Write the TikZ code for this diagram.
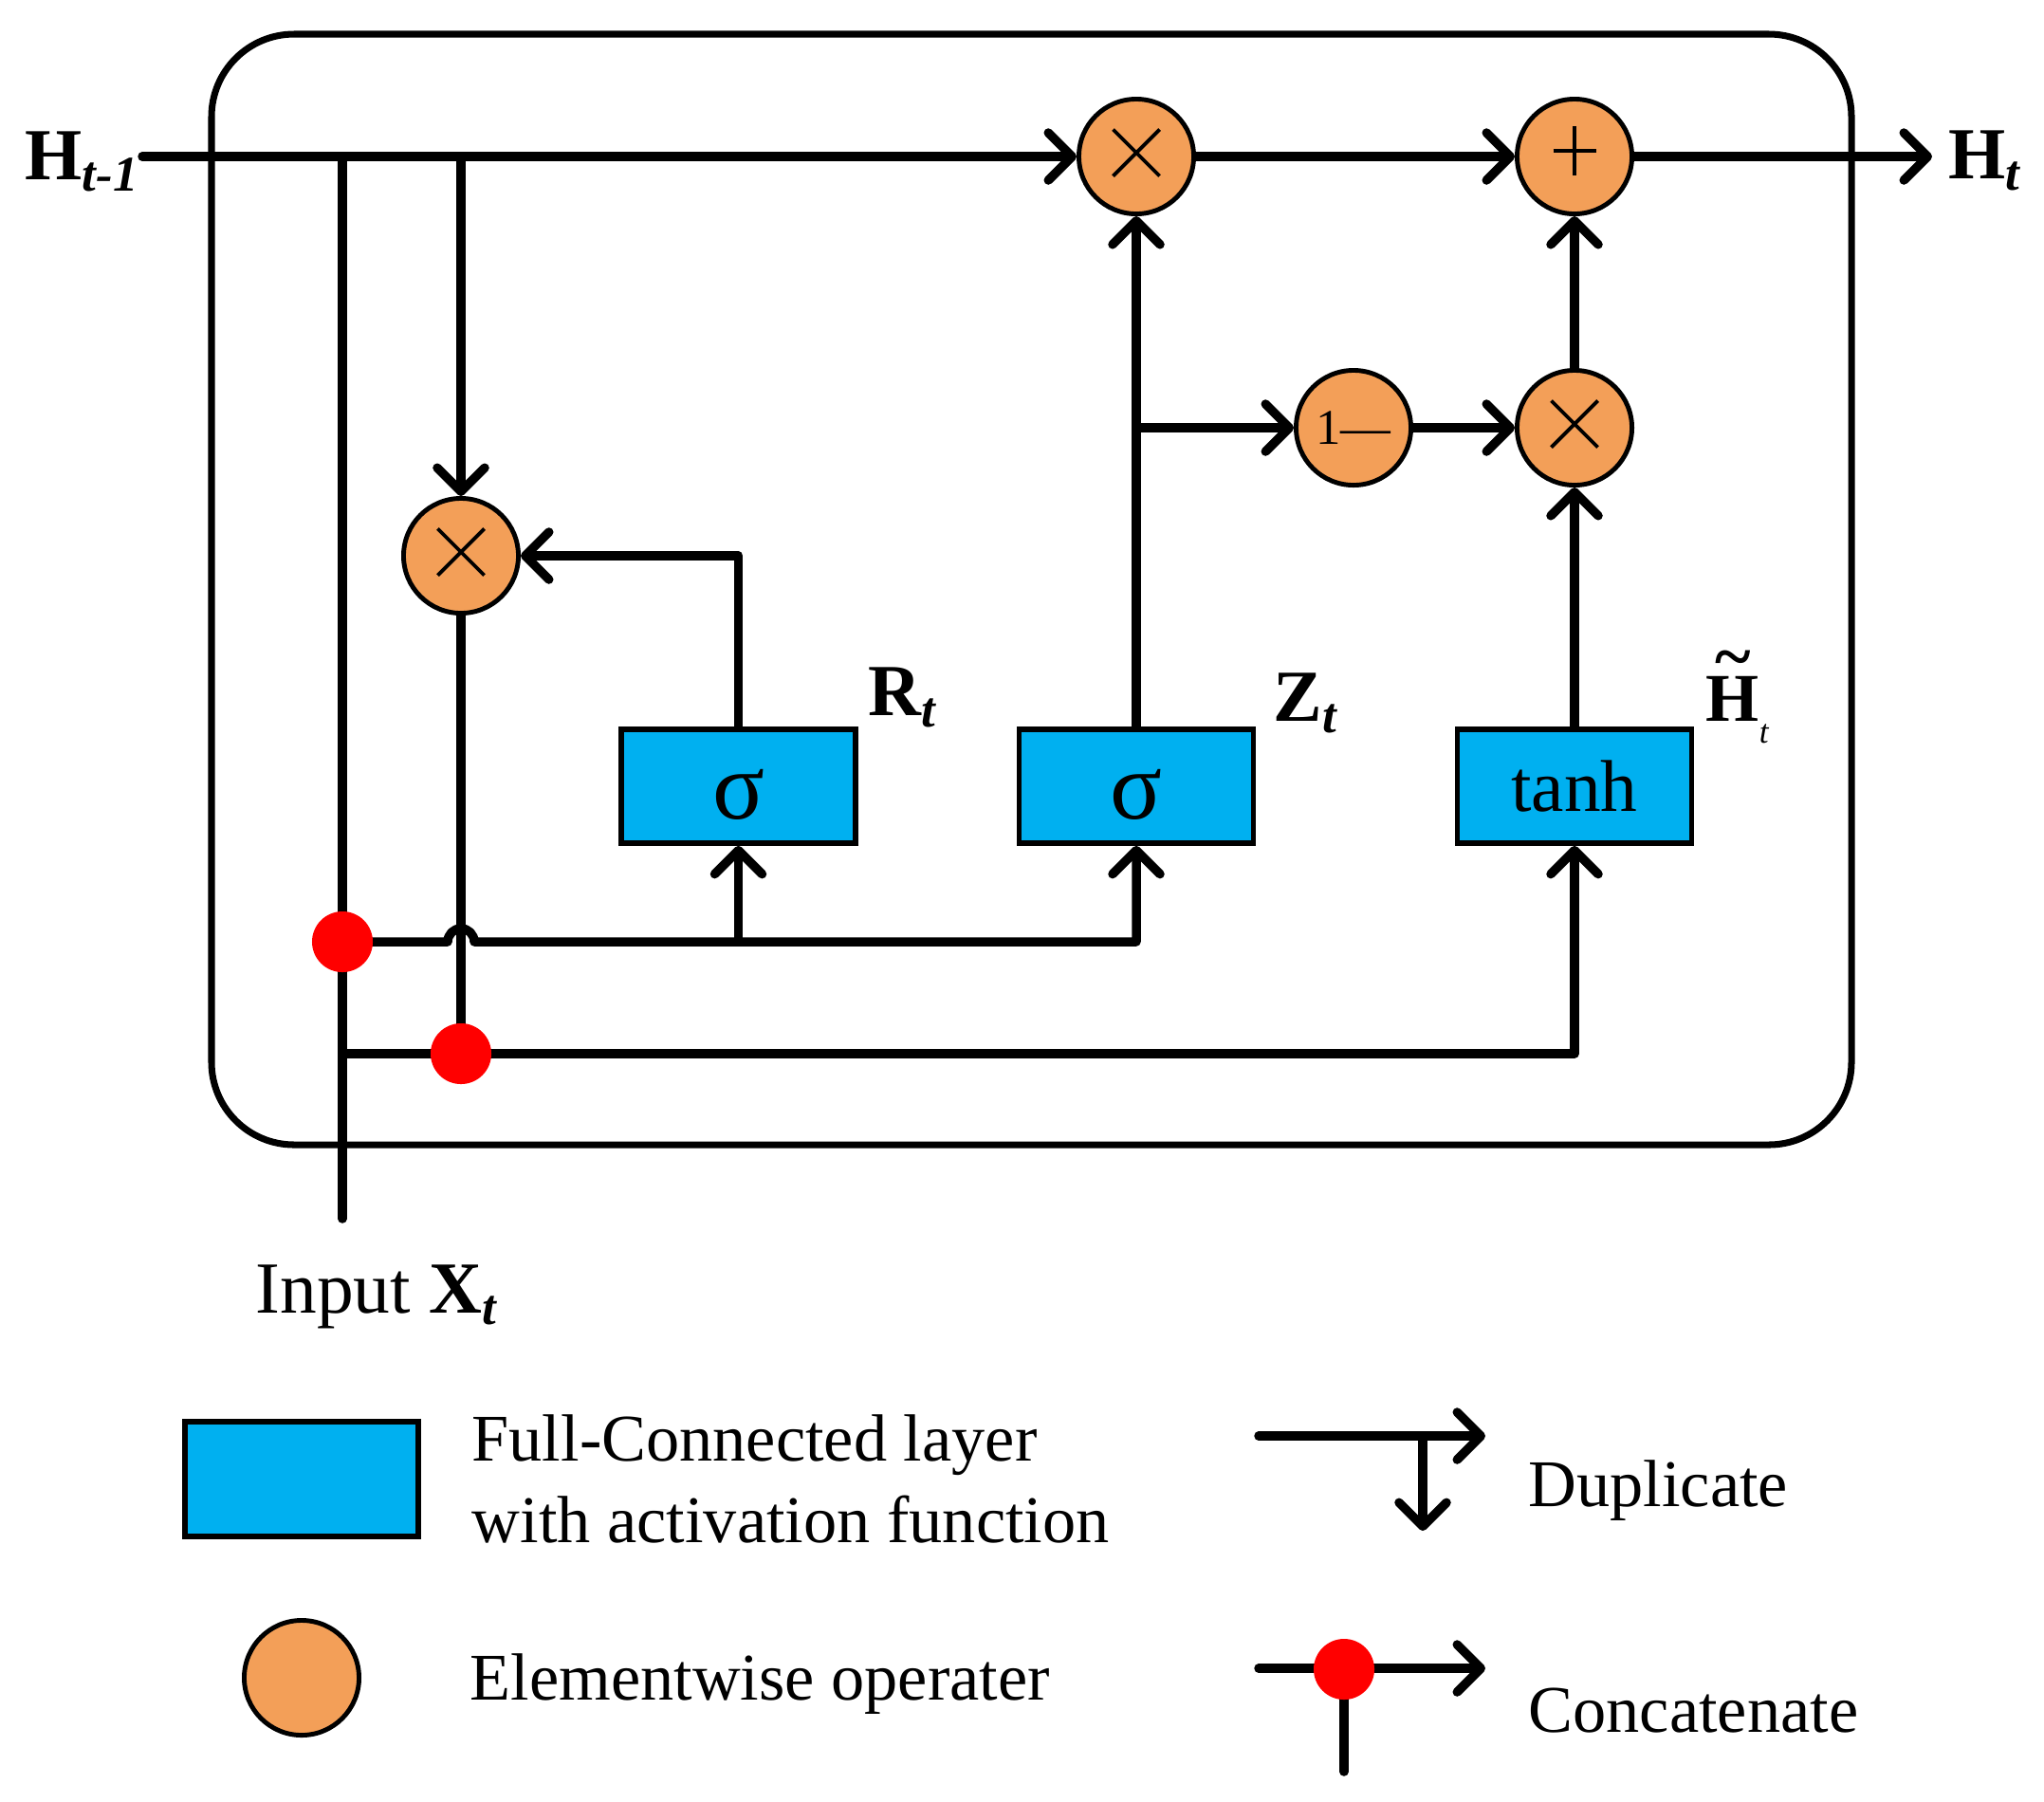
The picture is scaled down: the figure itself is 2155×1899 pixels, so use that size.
\documentclass[tikz,border=0pt]{standalone}
\usepackage{fontspec}
\setmainfont{Liberation Serif}
\usetikzlibrary{arrows.meta,calc,backgrounds}
\definecolor{fcblue}{RGB}{0,176,240}
\definecolor{opfill}{RGB}{243,159,88}
\newcommand{\fsz}[1]{\fontsize{#1}{#1}\selectfont}
\newcommand{\lsub}[1]{\raisebox{-0.12cm}{\fsz{15pt}\bfseries\itshape #1}}
\begin{document}
\begin{tikzpicture}[x=0.01cm,y=0.01cm,
  wire/.style={line width=2.7pt, line cap=round, line join=round},
  arr/.style={-{Straight Barb[length=0.25cm,width=0.5cm,round]}},
  op/.style={circle, draw, fill=opfill, line width=1.4pt, minimum size=1.21cm, inner sep=0pt},
  fc/.style={rectangle, draw, fill=fcblue, line width=1.6pt, minimum width=2.47cm, minimum height=1.20cm, inner sep=0pt},
  cdot/.style={circle, fill=red, minimum size=0.64cm, inner sep=0pt},
  lab/.style={anchor=base west, inner sep=0pt},
  timesop/.style={op, path picture={\draw[line width=1.1pt]
      ([shift={(-0.245cm,-0.205cm)}]path picture bounding box.center) -- ++(0.49cm,0.49cm)
      ([shift={(-0.245cm,0.285cm)}]path picture bounding box.center) -- ++(0.49cm,-0.49cm);}},
  plusop/.style={op, path picture={\draw[line width=1.1pt]
      ([shift={(-0.225cm,0.06cm)}]path picture bounding box.center) -- ++(0.45cm,0cm)
      ([shift={(0cm,-0.20cm)}]path picture bounding box.center) -- ++(0cm,0.52cm);}},
]
\useasboundingbox (0,0) rectangle (2155,-1899);

% cell frame
\draw[line width=2pt, rounded corners=0.87cm] (223,-36) rectangle (1952,-1207);

% element-wise operators
\node[timesop] (m1) at (1198,-165) {};
\node[plusop]  (pl) at (1660,-165) {};
\node[op, font=\fsz{15pt}] (om) at (1427,-451) {1—};
\node[timesop] (m2) at (1660,-451) {};
\node[timesop] (mr) at (486,-586) {};

% fully connected layers
\node[fc] (rs) at (778.5,-829) {\smash{\raisebox{-0.34cm}{\fsz{29pt}σ}}};
\node[fc] (zs) at (1198,-829) {\smash{\raisebox{-0.34cm}{\fsz{29pt}σ}}};
\node[fc, font=\fsz{22pt}] (th) at (1660,-829) {tanh};

% concatenation points
\node[cdot] (d1) at (361,-993) {};
\node[cdot] (d2) at (486,-1111) {};

% free ends
\coordinate (hs) at (150,-165);
\coordinate (hout) at (2037,-165);
\coordinate (xin) at (361,-1285);

% labels
\node[lab, font=\fsz{22pt}\bfseries] (hprev) at (26,-189) {H\lsub{t-1}};
\node[lab, font=\fsz{22pt}\bfseries] (hnext) at (2054,-188) {H\lsub{t}};
\node[lab, font=\fsz{22pt}\bfseries] (rlab) at (915,-754) {R\lsub{t}};
\node[lab, font=\fsz{22pt}\bfseries] (zlab) at (1342,-760) {Z\lsub{t}};
\node[lab] (hlab) at (1798,-760) {\fsz{20.5pt}\bfseries\ooalign{H\cr\hidewidth\raisebox{0.6em}{\char"007E}\hidewidth\cr}\raisebox{-0.23cm}{\fsz{10pt}\mdseries\itshape t}};
\node[lab, font=\fsz{22pt}] (xlab) at (269,-1384) {Input \textbf{X}\lsub{t}};

% legend
\node[fc, minimum width=2.46cm, minimum height=1.21cm] (lgfc) at (318,-1559.5) {};
\node[lab, font=\fsz{20pt}] (lgfct1) at (497,-1540) {Full-Connected layer};
\node[lab, font=\fsz{20pt}] (lgfct2) at (497,-1626) {with activation function};
\node[op] (lgop) at (318,-1769) {};
\node[lab, font=\fsz{20pt}] (lgopt) at (495,-1792) {Elementwise operater};
\coordinate (dupa) at (1327,-1514);
\coordinate (dupb) at (1566,-1514);
\coordinate (dupc) at (1500,-1514);
\coordinate (dupd) at (1500,-1614);
\node[lab, font=\fsz{20pt}] (lgdup) at (1611,-1588) {Duplicate};
\coordinate (cona) at (1327,-1759);
\coordinate (conb) at (1566,-1759);
\node[cdot] (cond) at (1417,-1760) {};
\coordinate (cone) at (1417,-1868);
\node[lab, font=\fsz{20pt}] (lgcon) at (1611,-1826) {Concatenate};

\begin{scope}[on background layer]
  % hidden state path
  \draw[wire,arr] (hs) -- (m1.west);
  \draw[wire,arr] (m1.east) -- (pl.west);
  \draw[wire,arr] (pl.east) -- (hout);
  % input line
  \draw[wire] (hs -| xin) -- (xin);
  % reset branch
  \draw[wire,arr] (hs -| mr) -- (mr.north);
  \draw[wire] (mr.south) -- (d2.center);
  \draw[wire,arr] (rs.north) |- (mr.east);
  % concatenation 1 -> gates
  \draw[wire,arr] (d1.center) -- ($(d1 -| mr)+(-14,0)$) arc[start angle=180,end angle=0,radius=14]
        -- (d1 -| zs) -- (zs.south);
  \draw[wire,arr] (d1 -| rs) -- (rs.south);
  % concatenation 2 -> candidate
  \draw[wire,arr] (d2 -| xin) -- (d2 -| th) -- (th.south);
  % update gate
  \draw[wire,arr] (zs.north) -- (m1.south);
  \draw[wire,arr] (zs.north |- om) -- (om.west);
  \draw[wire,arr] (om.east) -- (m2.west);
  \draw[wire,arr] (th.north) -- (m2.south);
  \draw[wire,arr] (m2.north) -- (pl.south);
  % legend symbols
  \draw[wire,arr] (dupa) -- (dupb);
  \draw[wire,arr] (dupc) -- (dupd);
  \draw[wire,arr] (cona) -- (conb);
  \draw[wire] (cond.center) -- (cone);
\end{scope}
\end{tikzpicture}
\end{document}
